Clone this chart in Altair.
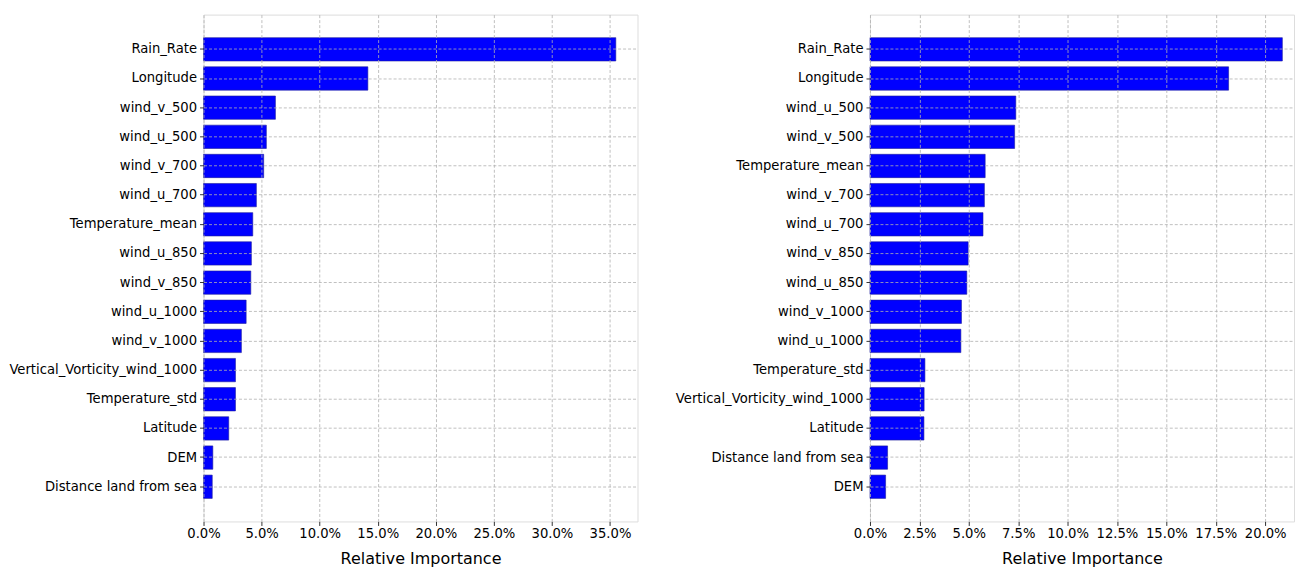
import altair as alt
import pandas as pd

# Left panel (model 1)
left_features = ["Rain_Rate", "Longitude", "wind_v_500", "wind_u_500", "wind_v_700",
                 "wind_u_700", "Temperature_mean", "wind_u_850", "wind_v_850",
                 "wind_u_1000", "wind_v_1000", "Vertical_Vorticity_wind_1000",
                 "Temperature_std", "Latitude", "DEM", "Distance land from sea"]
left_values = [0.355, 0.1415, 0.0619, 0.0541, 0.0518, 0.0455, 0.0424, 0.0412, 0.0407,
               0.0367, 0.0326, 0.0275, 0.0275, 0.0217, 0.0080, 0.0075]

# Right panel (model 2)
right_features = ["Rain_Rate", "Longitude", "wind_u_500", "wind_v_500", "Temperature_mean",
                  "wind_v_700", "wind_u_700", "wind_v_850", "wind_u_850", "wind_v_1000",
                  "wind_u_1000", "Temperature_std", "Vertical_Vorticity_wind_1000",
                  "Latitude", "Distance land from sea", "DEM"]
right_values = [0.2087, 0.1815, 0.0738, 0.0732, 0.0583, 0.0579, 0.0572, 0.0497, 0.0490,
                0.0463, 0.0460, 0.0278, 0.0274, 0.0273, 0.0089, 0.0079]

left_ticks = [0.0, 0.05, 0.10, 0.15, 0.20, 0.25, 0.30, 0.35]
right_ticks = [0.0, 0.025, 0.05, 0.075, 0.10, 0.125, 0.15, 0.175, 0.20]

FONT = "DejaVu Sans"


def panel(features, values, ticks, xmax, width, extent):
    df = pd.DataFrame({"feature": features, "importance": values})
    return alt.Chart(df).mark_bar(color="#0000FF", stroke="#1c1c9c", strokeWidth=0.6).encode(
        x=alt.X("importance:Q",
                scale=alt.Scale(domain=[0, xmax], nice=False, zero=True),
                axis=alt.Axis(title="Relative Importance", format=".1%", values=ticks,
                              grid=True, gridDash=[3, 2], gridColor="#b0b0b0",
                              gridWidth=0.8, zindex=1, labelOverlap=False,
                              labelFlush=False, labelBound=False,
                              domain=False, tickColor="#333333", tickSize=4,
                              labelPadding=2, labelFontSize=13.2, labelColor="black",
                              labelFont=FONT, titleFont=FONT, titleFontSize=16,
                              titleFontWeight="normal", titleColor="black",
                              titlePadding=11)),
        y=alt.Y("feature:N", sort=features,
                scale=alt.Scale(paddingInner=0.2, paddingOuter=0.79),
                axis=alt.Axis(title=None, bandPosition=0.5, grid=True, gridDash=[3, 2],
                              gridColor="#b0b0b0", gridWidth=0.8, zindex=1,
                              labelOverlap=False, labelBound=False,
                              domain=False, tickColor="#333333", tickSize=4,
                              labelPadding=3, labelFontSize=13.2, labelColor="black",
                              labelFont=FONT, labelLimit=400,
                              minExtent=extent, maxExtent=extent)),
    ).properties(width=width, height=508)


left = panel(left_features, left_values, left_ticks, 0.3737, 435, 203)
right = panel(right_features, right_values, right_ticks, 0.2146, 425, 231)

chart = alt.hconcat(left, right, spacing=0).properties(
    padding={"left": 0, "top": 13, "right": 0, "bottom": 0}
).configure_view(stroke="#555555", strokeWidth=1).configure(background="white")

chart.save("out.html", embed_options={"renderer": "svg", "actions": False})
